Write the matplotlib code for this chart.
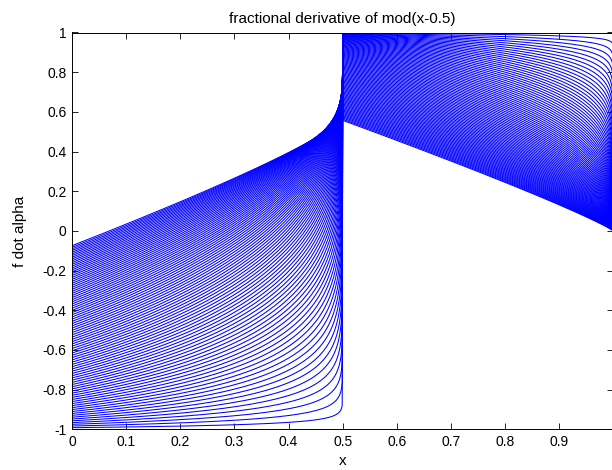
import math
import numpy as np
import matplotlib
matplotlib.use("Agg")
import matplotlib.pyplot as plt

# orders of the derivative, one curve each (0.10 ... 0.99)
alphas = np.round(np.arange(0.10, 0.995, 0.01), 2)
# sample points on [0, 1)
x = np.round(np.arange(0.0, 0.9995, 0.001), 3)

x_ticks = [0, 0.1, 0.2, 0.3, 0.4, 0.5, 0.6, 0.7, 0.8, 0.9]
x_tick_labels = ["0", "0.1", "0.2", "0.3", "0.4", "0.5", "0.6", "0.7", "0.8", "0.9"]
y_ticks = [-1, -0.8, -0.6, -0.4, -0.2, 0, 0.2, 0.4, 0.6, 0.8, 1]
y_tick_labels = ["-1", "-0.8", "-0.6", "-0.4", "-0.2", "0", "0.2", "0.4", "0.6", "0.8", "1"]


def frac_deriv_abs(x, a):
    # fractional derivative of order a of |x-0.5| (taken from the right end, x=1)
    g = math.gamma(2 - a)
    y = np.empty_like(x)
    left = x < 0.5
    y[left] = ((1 - x[left]) ** (1 - a) - 2 * (0.5 - x[left]) ** (1 - a)) / g
    y[~left] = (1 - x[~left]) ** (1 - a) / g
    return y


plt.rcParams["font.family"] = ["Liberation Sans", "DejaVu Sans"]
plt.rcParams["axes.unicode_minus"] = False

fig = plt.figure(figsize=(6.12, 4.70), dpi=100)
ax = fig.add_axes([72 / 612, 40.7 / 470, 541 / 612, 396.8 / 470])

for a in alphas:
    ax.plot(x, frac_deriv_abs(x, a), color="#0000ff", lw=0.75)

ax.set_xlim(x[0], x[-1])
ax.set_ylim(-1, 1)
ax.set_xticks(x_ticks)
ax.set_xticklabels(x_tick_labels)
ax.set_yticks(y_ticks)
ax.set_yticklabels(y_tick_labels)
ax.tick_params(direction="in", length=4, width=0.6, top=True, right=True,
               labelsize=10, pad=4)
for s in ax.spines.values():
    s.set_linewidth(0.7)

ax.set_title("fractional derivative of mod(x-0.5)", fontsize=11, pad=7)
ax.set_xlabel("x", fontsize=11, labelpad=4)
ax.set_ylabel("f dot alpha", fontsize=11, labelpad=11)

fig.savefig("out.png", dpi=100)
